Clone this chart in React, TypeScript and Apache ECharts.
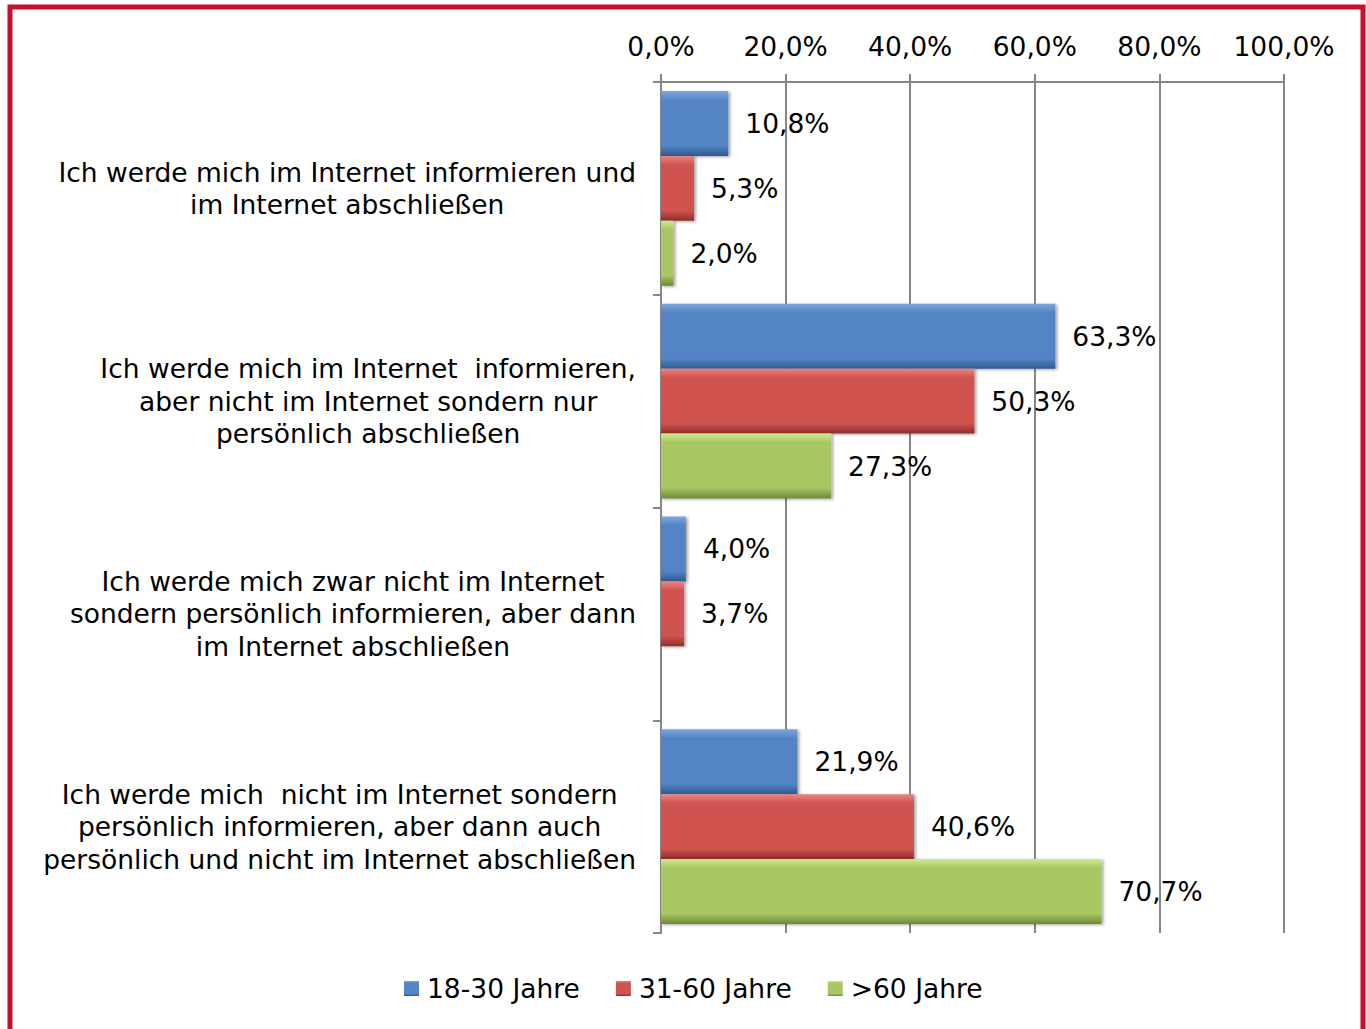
import React, { useEffect, useRef } from "react";
import * as echarts from "echarts";

const categories: string[] = [
  "Ich werde mich im Internet informieren und\nim Internet abschließen",
  "Ich werde mich im Internet  informieren,\naber nicht im Internet sondern nur\npersönlich abschließen",
  "Ich werde mich zwar nicht im Internet\nsondern persönlich informieren, aber dann\nim Internet abschließen",
  "Ich werde mich  nicht im Internet sondern\npersönlich informieren, aber dann auch\npersönlich und nicht im Internet abschließen",
];

const seriesNames: string[] = ["18-30 Jahre", "31-60 Jahre", ">60 Jahre"];
const values18to30: (number | null)[] = [10.8, 63.3, 4.0, 21.9];
const values31to60: (number | null)[] = [5.3, 50.3, 3.7, 40.6];
const valuesOver60: (number | null)[] = [2.0, 27.3, null, 70.7];

const xTicks = { min: 0, max: 100, interval: 20 };

const FONT = "DejaVu Sans";
const FS = 26.5;

function fmt(v: number): string {
  return v.toFixed(1).replace(".", ",") + "%";
}

function grad(light: string, base: string, dark: string) {
  return new echarts.graphic.LinearGradient(0, 0, 0, 1, [
    { offset: 0, color: light },
    { offset: 0.14, color: base },
    { offset: 0.84, color: base },
    { offset: 1, color: dark },
  ]);
}

export default function App() {
  const ref = useRef<HTMLDivElement>(null);

  useEffect(() => {
    if (!ref.current) return;
    const chart = echarts.init(ref.current, null, { renderer: "svg" });

    const colors = [
      grad("#7fa6dc", "#5385c6", "#2f5a90"),
      grad("#e88683", "#d05350", "#8f2d2b"),
      grad("#cfe890", "#a8c662", "#6c8a35"),
    ];
    const data = [values18to30, values31to60, valuesOver60];

    const series = seriesNames.map((name, i) => ({
      name,
      type: "bar",
      barGap: "0%",
      barCategoryGap: "8.5%",
      data: data[i].map((v) => (v === null ? "-" : v)),
      itemStyle: {
        color: colors[i],
        shadowBlur: 3,
        shadowOffsetX: 2,
        shadowOffsetY: 1,
        shadowColor: "rgba(0,0,0,0.35)",
      },
      label: {
        show: true,
        position: "right",
        distance: 17,
        formatter: (p: any) => fmt(p.value),
        fontFamily: FONT,
        fontSize: FS,
        color: "#000",
      },
    }));

    chart.setOption({
      animation: false,
      backgroundColor: "#fff",
      grid: { left: 661, right: 82, top: 82, bottom: 96 },
      xAxis: {
        type: "value",
        position: "top",
        min: xTicks.min,
        max: xTicks.max,
        interval: xTicks.interval,
        axisLine: { show: true, lineStyle: { color: "#868686", width: 2 } },
        axisTick: { show: true, length: 8, lineStyle: { color: "#868686", width: 2 } },
        splitLine: { show: true, lineStyle: { color: "#868686", width: 2 } },
        axisLabel: {
          formatter: (v: number) => fmt(v),
          fontFamily: FONT,
          fontSize: FS,
          color: "#000",
          margin: 22,
        },
      },
      yAxis: {
        type: "category",
        inverse: true,
        data: categories,
        axisLine: { show: true, lineStyle: { color: "#868686", width: 2 } },
        axisTick: { show: true, length: 8, lineStyle: { color: "#868686", width: 2 } },
        axisLabel: {
          margin: 25,
          align: "right",
          formatter: (v: string) =>
            v
              .split("\n")
              .map((l) => "{c|" + l + "}")
              .join("\n"),
          rich: {
            c: {
              align: "center",
              fontFamily: FONT,
              fontSize: FS,
              lineHeight: 32.5,
              color: "#000",
            },
          },
        },
      },
      legend: {
        bottom: 22,
        left: 399,
        itemWidth: 15,
        itemHeight: 15,
        itemGap: 36,
        icon: "rect",
        textStyle: { fontFamily: FONT, fontSize: FS, color: "#000", padding: [0, 0, 0, 3] },
        data: seriesNames,
      },
      graphic: [
        {
          type: "rect",
          shape: { x: 10, y: 7, width: 1353, height: 1100 },
          style: { fill: "none", stroke: "#c8102e", lineWidth: 5 },
          z: 100,
          silent: true,
        },
      ],
      series,
    });

    return () => chart.dispose();
  }, []);

  return (
    <div
      ref={ref}
      style={{ position: "fixed", left: 0, top: 0, width: 1366, height: 1029 }}
    />
  );
}
